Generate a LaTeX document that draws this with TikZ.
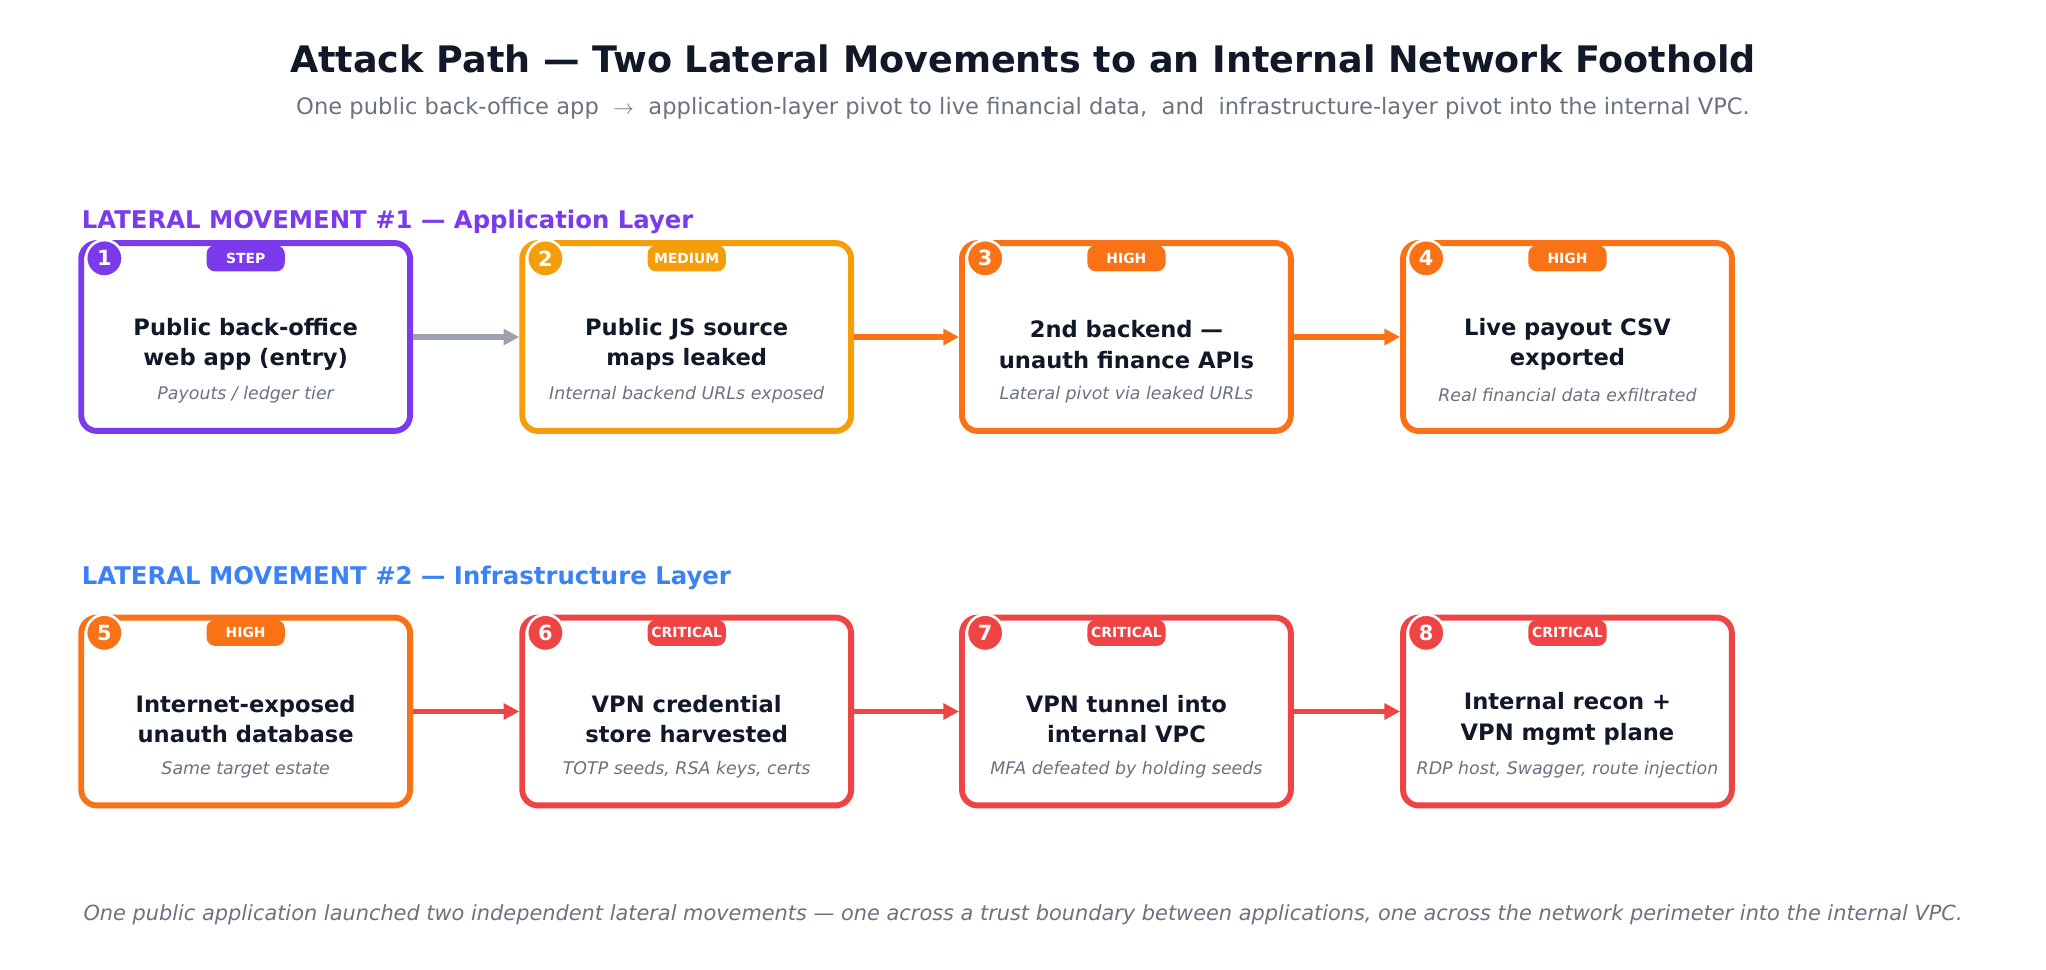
\documentclass[tikz,border=0pt]{standalone}
\usepackage{fontspec}
\setmainfont{DejaVu Sans}
\usetikzlibrary{arrows.meta,positioning}
\definecolor{cpurple}{HTML}{7C3AED}
\definecolor{camber}{HTML}{F59E0B}
\definecolor{corange}{HTML}{F97316}
\definecolor{cred}{HTML}{EF4444}
\definecolor{cblue}{HTML}{3B82F6}
\definecolor{cdark}{HTML}{111827}
\definecolor{cgrey}{HTML}{6B7280}
\definecolor{carrow}{HTML}{9CA3AF}
\tikzset{
  card/.style={draw=#1, line width=3.4pt, rounded corners=9pt, fill=white,
    minimum width=189pt, minimum height=108pt, inner sep=0pt},
  numdot/.style={circle, fill=#1, draw=white, line width=1.5pt, minimum size=21pt,
    inner sep=0pt, text=white, font=\bfseries\fontsize{12}{12}\selectfont},
  badge/.style={fill=#1, rounded corners=5pt, minimum width=45pt, minimum height=15pt,
    inner sep=1pt, text=white, font=\bfseries\fontsize{8}{8}\selectfont},
  cardtitle/.style={align=center, text=cdark, font=\bfseries\fontsize{13}{17.5}\selectfont},
  cardsub/.style={text=cgrey, font=\itshape\fontsize{10}{10}\selectfont},
  flow/.style={-{Triangle[length=9pt,width=9pt]}, line width=3pt, draw=#1},
  section/.style={anchor=west, font=\bfseries\fontsize{14}{14}\selectfont, text=#1}
}
% name, x, y, colour, number, badge, title, subtitle
\newcommand\stepcard[8]{%
  \node[card=#4, anchor=north west] (#1) at (#2,#3) {};
  \node[numdot=#4] (#1n) at ([xshift=15pt,yshift=-10.5pt]#1.north west) {#5};
  \node[badge=#4] (#1b) at ([yshift=-10.5pt]#1.north) {#6};
  \node[cardtitle] (#1t) at ([yshift=-60pt]#1.north) {#7};
  \node[cardsub] (#1s) at ([yshift=-89pt]#1.north) {#8};
}
\begin{document}
\begin{tikzpicture}[x=0.75pt,y=-0.75pt]
  \useasboundingbox[fill=white] (0,0) rectangle (1568,743);
  \node[text=cdark, font=\bfseries\fontsize{21}{21}\selectfont] (title) at (784,45)
    {Attack Path — Two Lateral Movements to an Internal Network Foothold};
  \node[text=cgrey, font=\fontsize{13}{13}\selectfont] (subtitle) at (784,83)
    {One public back-office app \ $\rightarrow$ \ application-layer pivot to live financial data, \ and \ infrastructure-layer pivot into the internal VPC.};
  % row 1
  \node[section=cpurple] (sec1) at (58,170) {LATERAL MOVEMENT \#1 — Application Layer};
  \stepcard{s1}{60}{184}{cpurple}{1}{STEP}{Public back-office\\web app (entry)}{Payouts / ledger tier}
  \stepcard{s2}{398}{184}{camber}{2}{MEDIUM}{Public JS source\\maps leaked}{Internal backend URLs exposed}
  \stepcard{s3}{735}{184}{corange}{3}{HIGH}{2nd backend —\\unauth finance APIs}{Lateral pivot via leaked URLs}
  \stepcard{s4}{1073}{184}{corange}{4}{HIGH}{Live payout CSV\\exported}{Real financial data exfiltrated}
  \draw[flow=carrow] (s1) -- (s2);
  \draw[flow=corange] (s2) -- (s3);
  \draw[flow=corange] (s3) -- (s4);
  % row 2
  \node[section=cblue] (sec2) at (58,443) {LATERAL MOVEMENT \#2 — Infrastructure Layer};
  \stepcard{s5}{60}{471}{corange}{5}{HIGH}{Internet-exposed\\unauth database}{Same target estate}
  \stepcard{s6}{398}{471}{cred}{6}{CRITICAL}{VPN credential\\store harvested}{TOTP seeds, RSA keys, certs}
  \stepcard{s7}{735}{471}{cred}{7}{CRITICAL}{VPN tunnel into\\internal VPC}{MFA defeated by holding seeds}
  \stepcard{s8}{1073}{471}{cred}{8}{CRITICAL}{Internal recon +\\VPN mgmt plane}{RDP host, Swagger, route injection}
  \draw[flow=cred] (s5) -- (s6);
  \draw[flow=cred] (s6) -- (s7);
  \draw[flow=cred] (s7) -- (s8);
  \node[text=cgrey, font=\itshape\fontsize{12}{12}\selectfont] (footer) at (784,701)
    {One public application launched two independent lateral movements — one across a trust boundary between applications, one across the network perimeter into the internal VPC.};
\end{tikzpicture}
\end{document}
